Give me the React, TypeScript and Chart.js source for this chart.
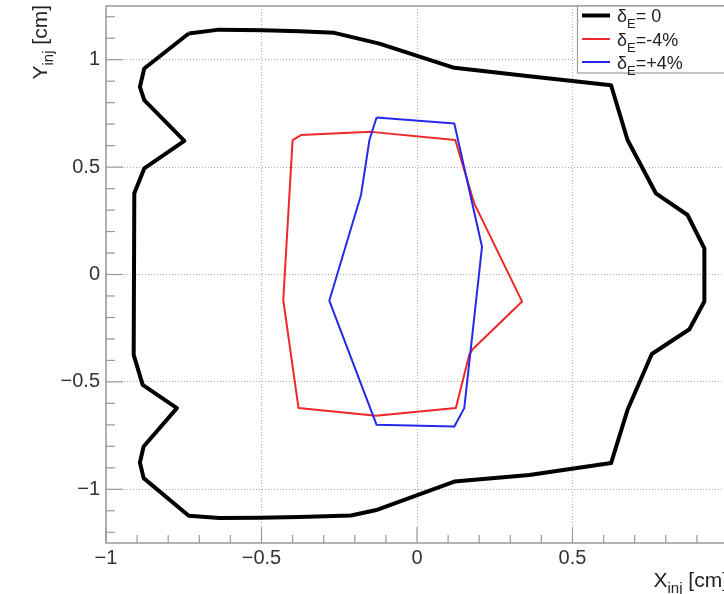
import React, { useEffect, useRef } from 'react';
import { Chart, registerables } from 'chart.js';

Chart.register(...registerables);

// ---- Data (cm) ----
const blackX = [-0.734, -0.636, -0.496, -0.378, -0.266, -0.121, 0.12, 0.361, 0.624, 0.677, 0.768, 0.87, 0.924, 0.924, 0.876, 0.755, 0.677, 0.624, 0.361, 0.12, -0.127, -0.212, -0.378, -0.507, -0.636, -0.734, -0.879, -0.891, -0.879, -0.772, -0.882, -0.911, -0.909, -0.877, -0.748, -0.877, -0.891, -0.877];
const blackY = [1.122, 1.14, 1.137, 1.133, 1.125, 1.075, 0.962, 0.923, 0.881, 0.626, 0.378, 0.277, 0.122, -0.126, -0.255, -0.37, -0.63, -0.878, -0.933, -0.964, -1.095, -1.122, -1.129, -1.133, -1.134, -1.123, -0.948, -0.875, -0.801, -0.622, -0.514, -0.374, 0.378, 0.494, 0.622, 0.812, 0.873, 0.959];

const redX = [-0.4, -0.373, -0.148, 0.123, 0.184, 0.338, 0.179, 0.168, 0.125, -0.132, -0.381, -0.43];
const redY = [0.626, 0.649, 0.664, 0.626, 0.331, -0.126, -0.348, -0.374, -0.622, -0.658, -0.622, -0.119];

const blueX = [-0.13, 0.12, 0.209, 0.152, 0.12, -0.13, -0.282, -0.18, -0.153];
const blueY = [0.731, 0.703, 0.129, -0.622, -0.708, -0.7, -0.122, 0.37, 0.626];

const xTickValues = [-1, -0.5, 0, 0.5];
const yTickValues = [-1, -0.5, 0, 0.5, 1];
const seriesLabels = ['= 0', '=-4%', '=+4%'];
const seriesColors = ['#000000', 'rgb(238,40,40)', 'rgb(40,40,235)'];
const seriesWidths = [4, 2, 2];

const FONT = '"Liberation Sans", Arial, Helvetica, sans-serif';

function closed(xs: number[], ys: number[]) {
  const pts = xs.map((x, i) => ({ x, y: ys[i] }));
  pts.push({ x: xs[0], y: ys[0] });
  return pts;
}

function fmt(v: number): string {
  const s = String(v);
  return v < 0 ? '\u2212' + s.slice(1) : s;
}

const decorPlugin = {
  id: 'decor',
  afterDatasetsDraw(chart: any) {
    const ctx = chart.ctx as CanvasRenderingContext2D;
    const a = chart.chartArea;
    const xs = chart.scales.x;
    const ys = chart.scales.y;
    ctx.save();
    ctx.strokeStyle = '#9a9a9a';
    ctx.lineWidth = 1.5;
    ctx.strokeRect(a.left, a.top, a.right - a.left, a.bottom - a.top);
    ctx.lineWidth = 1.2;
    for (let k = -10; k <= 10; k++) {
      const px = xs.getPixelForValue(k / 10);
      const len = k % 5 === 0 ? 16 : 8;
      ctx.beginPath();
      ctx.moveTo(px, a.bottom);
      ctx.lineTo(px, a.bottom - len);
      ctx.stroke();
    }
    for (let k = -12; k <= 12; k++) {
      const py = ys.getPixelForValue(k / 10);
      const len = k % 5 === 0 ? 17 : 9;
      ctx.beginPath();
      ctx.moveTo(a.left, py);
      ctx.lineTo(a.left + len, py);
      ctx.stroke();
    }
    ctx.restore();
  },
  afterDraw(chart: any) {
    const ctx = chart.ctx as CanvasRenderingContext2D;
    const a = chart.chartArea;
    ctx.save();
    ctx.fillStyle = '#222';
    ctx.textBaseline = 'alphabetic';
    ctx.textAlign = 'left';
    const main = `21px ${FONT}`;
    const sub = `15px ${FONT}`;
    ctx.font = main;
    const wX = ctx.measureText('X').width;
    const wRest = ctx.measureText(' [cm]').width;
    ctx.font = sub;
    const wSub = ctx.measureText('inj').width;
    const total = wX + wSub + wRest;
    const x0 = a.right - total;
    const by = 587;
    ctx.font = main;
    ctx.fillText('X', x0, by);
    ctx.font = sub;
    ctx.fillText('inj', x0 + wX, by + 6);
    ctx.font = main;
    ctx.fillText(' [cm]', x0 + wX + wSub, by);
    // Y title
    ctx.save();
    ctx.translate(47, a.top - 1);
    ctx.rotate(-Math.PI / 2);
    ctx.font = main;
    const wY = ctx.measureText('Y').width;
    const s = -(wY + wSub + wRest);
    ctx.fillText('Y', s, 0);
    ctx.font = sub;
    ctx.fillText('inj', s + wY, 6);
    ctx.font = main;
    ctx.fillText(' [cm]', s + wY + wSub, 0);
    ctx.restore();

    // Legend
    const lx = 577;
    const ly = a.top;
    const lw = a.right - lx;
    const lh = 67;
    ctx.fillStyle = '#ffffff';
    ctx.fillRect(lx, ly, lw, lh);
    ctx.strokeStyle = '#9a9a9a';
    ctx.lineWidth = 1.2;
    ctx.strokeRect(lx + 0.5, ly, lw, lh);
    const rowsY = [15.5, 39, 62];
    seriesLabels.forEach((lab, i) => {
      const cy = rowsY[i];
      ctx.strokeStyle = seriesColors[i];
      ctx.lineWidth = seriesWidths[i];
      ctx.beginPath();
      ctx.moveTo(582, cy);
      ctx.lineTo(610, cy);
      ctx.stroke();
      ctx.fillStyle = '#222';
      ctx.font = `18px ${FONT}`;
      const b = cy + 6.5;
      ctx.fillText('\u03b4', 617, b);
      const wd = ctx.measureText('\u03b4').width;
      ctx.font = `13px ${FONT}`;
      ctx.fillText('E', 617 + wd, b + 6);
      const we = ctx.measureText('E').width;
      ctx.font = `18px ${FONT}`;
      ctx.fillText(lab, 617 + wd + we, b);
    });
    ctx.restore();
  },
};

export default function App() {
  const ref = useRef<HTMLCanvasElement | null>(null);
  useEffect(() => {
    if (!ref.current) return;
    const mk = (xs: number[], ys: number[], i: number, order: number) => ({
      label: 'δE' + seriesLabels[i],
      data: closed(xs, ys),
      showLine: true,
      borderColor: seriesColors[i],
      backgroundColor: seriesColors[i],
      borderWidth: seriesWidths[i],
      pointRadius: 0,
      pointHoverRadius: 0,
      tension: 0,
      fill: false,
      borderJoinStyle: 'round' as const,
      order,
    });
    const chart = new Chart(ref.current, {
      type: 'scatter',
      data: {
        datasets: [
          mk(blackX, blackY, 0, 2),
          mk(redX, redY, 1, 1),
          mk(blueX, blueY, 2, 0),
        ],
      },
      options: {
        animation: false,
        responsive: false,
        events: [],
        layout: { padding: { top: 6, right: 12, left: 0, bottom: 0 } },
        plugins: { legend: { display: false }, tooltip: { enabled: false } },
        scales: {
          x: {
            type: 'linear',
            min: -1,
            max: 1,
            afterBuildTicks: (s: any) => {
              s.ticks = xTickValues.map((v) => ({ value: v }));
            },
            afterFit: (s: any) => {
              s.height = 51;
              s.paddingLeft = 0;
              s.paddingRight = 0;
            },
            grid: { color: '#b0b0b0', lineWidth: 1, drawTicks: false },
            border: { display: false, dash: [1, 2] },
            ticks: {
              padding: 3,
              color: '#333',
              font: { family: FONT, size: 20 },
              maxRotation: 0,
              autoSkip: false,
              callback: (v: any) => fmt(Number(v)),
            },
          },
          y: {
            type: 'linear',
            min: -1.25,
            max: 1.25,
            afterBuildTicks: (s: any) => {
              s.ticks = yTickValues.map((v) => ({ value: v }));
            },
            afterFit: (s: any) => {
              s.width = 106;
              s.paddingTop = 0;
              s.paddingBottom = 0;
            },
            grid: { color: '#b0b0b0', lineWidth: 1, drawTicks: false },
            border: { display: false, dash: [1, 2] },
            ticks: {
              padding: 6,
              color: '#333',
              font: { family: FONT, size: 20 },
              autoSkip: false,
              callback: (v: any) => fmt(Number(v)),
            },
          },
        },
      },
      plugins: [decorPlugin],
    });
    return () => chart.destroy();
  }, []);
  return (
    <div style={{ position: 'fixed', left: 0, top: 0, width: 740, height: 594, background: '#fff' }}>
      <canvas ref={ref} width={740} height={594} style={{ display: 'block' }} />
    </div>
  );
}
